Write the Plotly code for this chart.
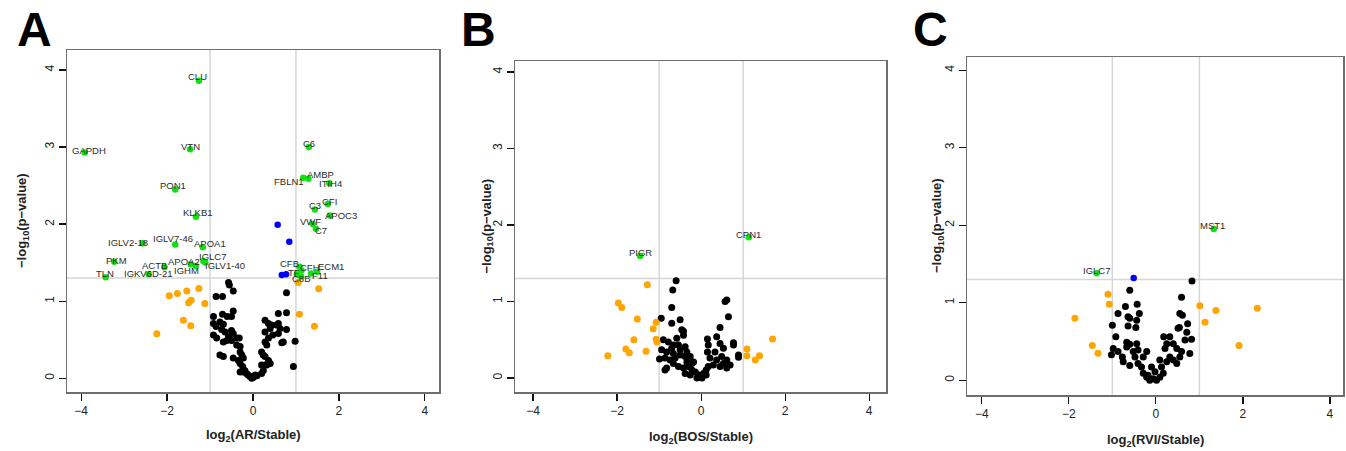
import plotly.graph_objects as go

# ---------------- Panel A: log2(AR/Stable) ----------------
a_black_x = [-0.57, -0.55, -0.46, -0.86, -0.71, -0.92, -0.71, -0.60, -0.50, -0.46,
             -0.92, -0.77, -0.69, -0.86, -0.73, -0.65, -0.50, -0.46, -0.57, -0.50,
             -0.92, -0.845, -0.69, -0.61, -0.38, -0.32, -0.38, -0.30, -0.30, -0.26,
             -0.225, -0.34, -0.46, -0.77, -0.69, -0.30, -0.24, -0.19, -0.30, -0.15,
             -0.07, -0.03, 0.05, 0.09, 0.01, -0.225, -0.11,
             0.78, 0.59, 0.78, 0.28, 0.36, 0.43, 0.40, 0.59, 0.63, 0.78,
             0.28, 0.46, 0.36, 0.28, 0.705, 0.67, 0.98, 0.32, 0.20, 0.24,
             0.28, 0.36, 0.28, 0.20, 0.32, 0.40, 0.24, 0.20, 0.94, 0.59, 0.55]
a_black_y = [1.24, 1.21, 1.13, 1.06, 1.06, 0.80, 0.83, 0.80, 0.80, 0.87,
             0.71, 0.73, 0.70, 0.67, 0.63, 0.60, 0.62, 0.58, 0.54, 0.49,
             0.56, 0.52, 0.47, 0.49, 0.52, 0.52, 0.43, 0.41, 0.34, 0.30,
             0.26, 0.23, 0.26, 0.30, 0.28, 0.19, 0.15, 0.10, 0.08, 0.06,
             0.02, 0.00, 0.04, 0.03, 0.01, 0.08, 0.04,
             1.11, 0.84, 0.85, 0.75, 0.71, 0.69, 0.645, 0.71, 0.645, 0.63,
             0.60, 0.56, 0.52, 0.47, 0.47, 0.46, 0.48, 0.43, 0.34, 0.30,
             0.28, 0.23, 0.17, 0.17, 0.17, 0.19, 0.10, 0.06, 0.15, 0.58, 0.69]
a_orange_x = [-1.95, -1.76, -1.54, -1.26, -1.44, -1.50, -1.12, -1.62, -1.45, -2.24,
              1.53, 1.08, 1.43, 1.05]
a_orange_y = [1.07, 1.10, 1.13, 1.165, 1.01, 0.98, 0.97, 0.75, 0.68, 0.575,
              1.16, 0.83, 0.675, 1.24]
a_blue_x = [0.574, 0.845, 0.67, 0.77]
a_blue_y = [1.99, 1.77, 1.34, 1.35]
a_green_labels = ["CLU", "VTN", "GAPDH", "PON1", "KLKB1", "IGLV2-18", "IGLV7-46",
                  "APOA1", "IGLC7", "IGLV1-40", "APOA2", "IGHM", "ACTB", "IGKV6D-21",
                  "PKM", "TLN", "C6", "AMBP", "FBLN1", "ITIH4", "CFI", "C3", "APOC3",
                  "VWF", "C7", "CFB", "CFH", "ECM1", "TF", "C8B", "F11"]
a_green_x = [-1.26, -1.465, -3.92, -1.81, -1.33, -2.57, -1.81,
             -1.17, -1.155, -1.11, -1.45, -1.33, -2.06, -2.43,
             -3.23, -3.43, 1.30, 1.29, 1.17, 1.775, 1.74, 1.44, 1.79,
             1.39, 1.465, 1.08, 1.13, 1.495, 1.02, 1.12, 1.35]
a_green_y = [3.86, 2.97, 2.93, 2.45, 2.095, 1.75, 1.735,
             1.70, 1.52, 1.50, 1.48, 1.455, 1.44, 1.35,
             1.51, 1.31, 3.00, 2.59, 2.60, 2.53, 2.26, 2.19, 2.11,
             2.00, 1.94, 1.445, 1.40, 1.38, 1.35, 1.32, 1.36]
# label offsets in pixels (layout only)
a_label_dx = [-1, 0, 4, -2, 2, -15, -2, 7, 9, 20, -7, -9, -10, 0,
              2, -1, 0, 12, -14, 1, 2, 0, 11, -2, 5, -10, 8, 14, -3, 0, 9]
a_label_dy = [4, 3, 2, 4, 4, 1, 6, 4, 5, -3, 3, -4, 2, 1,
              1, 4, 4, 4, -4, 0, 3, 4, 0, 3, -2, 3, 3, 5, 2, -2, -2]

# ---------------- Panel B: log2(BOS/Stable) ----------------
b_black_x = [-0.595, -0.675, -0.70, -0.95, -0.70, -0.50, 0.61, 0.57, 0.65, 0.45,
             0.37, 0.15, 0.45, 0.17, 0.77, 0.77, 0.53, 0.15, 0.33, 0.89,
             0.89, 0.49, 0.21, 0.37, 0.61, 0.53, 0.69, 0.61, 0.45, 0.29,
             0.17, 0.12, 0.055, -0.02, -0.10, 0.02, 0.12, -0.06, -0.14, -0.22,
             -0.30, -0.22, -0.34, -0.42, -0.38, -0.26, -0.54, -0.66, -0.82, -0.74,
             -0.86, -0.99, -0.94, -0.82, -0.66, -0.50, -0.38, -0.90, -0.78, -0.58,
             -0.42, -0.46, -0.54, -0.38, -0.66, -0.34, -0.50, -0.62, -0.26, -0.18,
             -0.42, -0.70, -0.86]
b_black_y = [1.27, 1.15, 0.92, 0.78, 0.715, 0.76, 1.02, 1.00, 0.80, 0.66,
             0.54, 0.51, 0.45, 0.43, 0.46, 0.43, 0.39, 0.34, 0.34, 0.30,
             0.27, 0.28, 0.26, 0.235, 0.235, 0.19, 0.17, 0.13, 0.15, 0.17,
             0.15, 0.105, 0.06, 0.02, 0.00, 0.00, 0.04, 0.04, 0.08, 0.105,
             0.15, 0.19, 0.21, 0.13, 0.06, 0.04, 0.15, 0.19, 0.13, 0.235,
             0.26, 0.25, 0.37, 0.34, 0.32, 0.30, 0.28, 0.50, 0.47, 0.52,
             0.56, 0.63, 0.43, 0.41, 0.43, 0.34, 0.37, 0.26, 0.28, 0.21,
             0.61, 0.39, 0.105]
b_orange_x = [-1.28, -1.97, -1.89, -1.52, -1.14, -1.07, -1.60, -1.07, -1.05, -1.79,
              -1.71, -1.31, -2.22, 1.70, 1.09, 1.09, 1.39, 1.29]
b_orange_y = [1.22, 0.98, 0.92, 0.77, 0.645, 0.73, 0.50, 0.505, 0.47, 0.38,
              0.33, 0.35, 0.29, 0.51, 0.38, 0.29, 0.29, 0.235]
b_blue_x = []
b_blue_y = []
b_green_labels = ["PIGR", "CPN1"]
b_green_x = [-1.45, 1.135]
b_green_y = [1.595, 1.84]
b_label_dx = [0, 0]
b_label_dy = [3, 3]

# ---------------- Panel C: log2(RVI/Stable) ----------------
c_black_x = [0.83, -0.60, 0.59, -0.70, -0.43, -0.87, -0.38, -0.60, -0.44, 0.55,
             0.61, -1.00, -0.64, -0.46, 0.54, 0.73, -0.92, -0.67, -0.60, -0.44,
             -0.41, -0.52, -0.21, -0.29, -0.48, -0.98, -1.02, -0.87, -0.75, -0.60,
             -0.41, -0.29, -0.18, -0.06, 0.015, 0.09, 0.17, 0.13, 0.25, 0.32,
             0.40, 0.48, 0.55, 0.59, 0.78, 0.82, 0.67, 0.71, 0.51, 0.32,
             0.18, 0.25, 0.40, 0.21, 0.48, 0.09, -0.10, -0.02, -0.14, -0.21,
             -0.33, -0.67, -0.64, -0.77]
c_black_y = [1.28, 1.16, 1.07, 0.95, 0.98, 0.86, 0.86, 0.80, 0.775, 0.86,
             0.84, 0.71, 0.70, 0.68, 0.68, 0.73, 0.56, 0.49, 0.465, 0.47,
             0.39, 0.37, 0.37, 0.30, 0.30, 0.41, 0.33, 0.37, 0.24, 0.19,
             0.215, 0.09, 0.065, 0.02, 0.00, 0.04, 0.09, 0.17, 0.24, 0.30,
             0.26, 0.215, 0.30, 0.37, 0.345, 0.53, 0.52, 0.62, 0.67, 0.56,
             0.56, 0.47, 0.47, 0.41, 0.41, 0.26, 0.17, 0.11, 0.00, 0.04,
             0.17, 0.43, 0.82, 0.30]
c_orange_x = [-1.10, -1.07, -1.86, -1.46, -1.33, 1.01, 1.38, 2.33, 1.13, 1.91]
c_orange_y = [1.11, 0.98, 0.80, 0.45, 0.35, 0.96, 0.90, 0.93, 0.75, 0.45]
c_blue_x = [-0.51]
c_blue_y = [1.32]
c_green_labels = ["MST1", "IGLC7"]
c_green_x = [1.33, -1.36]
c_green_y = [1.95, 1.38]
c_label_dx = [-1, 0]
c_label_dy = [4, 3]

x_titles = ["log<sub>2</sub>(AR/Stable)", "log<sub>2</sub>(BOS/Stable)", "log<sub>2</sub>(RVI/Stable)"]
panel_letters = ["A", "B", "C"]
x_ticks = [-4, -2, 0, 2, 4]
y_ticks = [0, 1, 2, 3, 4]
fc_cut = [-1, 1]
p_cut = 1.30103  # -log10(0.05)

W, H = 1346, 451

# layout in pixels: (left, right, top, bottom), axis ranges
boxes = [(67, 439, 50, 392), (515, 886, 61, 392), (967, 1343, 57, 395)]
xranges = [[-4.33, 4.33], [-4.43, 4.40], [-4.34, 4.30]]
yranges = [[-0.18, 4.26], [-0.183, 4.144], [-0.19, 4.17]]
ytitle_x = [22, 487, 937]
xtitle_y = [435, 437, 440]
letter_pos = [(34.5, 29.5), (478.5, 29.5), (930.5, 29.5)]

panels = [
    (a_black_x, a_black_y, a_orange_x, a_orange_y, a_blue_x, a_blue_y,
     a_green_x, a_green_y, a_green_labels, a_label_dx, a_label_dy),
    (b_black_x, b_black_y, b_orange_x, b_orange_y, b_blue_x, b_blue_y,
     b_green_x, b_green_y, b_green_labels, b_label_dx, b_label_dy),
    (c_black_x, c_black_y, c_orange_x, c_orange_y, c_blue_x, c_blue_y,
     c_green_x, c_green_y, c_green_labels, c_label_dx, c_label_dy),
]

FONT = "Liberation Sans, Arial, sans-serif"
fig = go.Figure()
annotations = []
shapes = []
layout_axes = {}

for i, (bx, by, ox, oy, blx, bly, gx, gy, gl, ldx, ldy) in enumerate(panels):
    n = "" if i == 0 else str(i + 1)
    xa, ya = "x" + n, "y" + n
    fig.add_trace(go.Scatter(x=bx, y=by, mode="markers", xaxis=xa, yaxis=ya,
                             marker=dict(color="black", size=7), hoverinfo="skip"))
    fig.add_trace(go.Scatter(x=ox, y=oy, mode="markers", xaxis=xa, yaxis=ya,
                             marker=dict(color="#FFA500", size=7), hoverinfo="skip"))
    fig.add_trace(go.Scatter(x=gx, y=gy, mode="markers", xaxis=xa, yaxis=ya,
                             marker=dict(color="#11E011", size=6.5), hoverinfo="skip"))
    if blx:
        fig.add_trace(go.Scatter(x=blx, y=bly, mode="markers", xaxis=xa, yaxis=ya,
                                 marker=dict(color="#0000FF", size=6.5), hoverinfo="skip"))
    for x, y, t, dx, dy in zip(gx, gy, gl, ldx, ldy):
        annotations.append(dict(x=x, y=y, xref=xa, yref=ya, text=t, showarrow=False,
                                xshift=dx, yshift=dy,
                                font=dict(family=FONT, size=9.5, color="#2a2a2a")))
    l, r, t, b = boxes[i]
    common = dict(showline=True, mirror=True, linecolor="#6e6e6e", linewidth=1.5,
                  ticks="outside", ticklen=7, tickcolor="#111", tickwidth=1.2,
                  showgrid=False, zeroline=False,
                  tickfont=dict(family=FONT, size=12, color="#222"))
    layout_axes["xaxis" + n] = dict(common, domain=[l / W, r / W], range=xranges[i],
                                    anchor=ya, tickvals=x_ticks)
    layout_axes["yaxis" + n] = dict(common, domain=[1 - b / H, 1 - t / H], range=yranges[i],
                                    anchor=xa, tickvals=y_ticks, tickangle=-90)
    for v in fc_cut:
        shapes.append(dict(type="line", xref=xa, yref=ya + " domain", x0=v, x1=v, y0=0, y1=1,
                           line=dict(color="#d6d6d6", width=1.5), layer="below"))
    shapes.append(dict(type="line", xref=xa + " domain", yref=ya, x0=0, x1=1, y0=p_cut, y1=p_cut,
                       line=dict(color="#d6d6d6", width=1.5), layer="below"))
    annotations.append(dict(x=(l + r) / 2 / W, y=1 - xtitle_y[i] / H, xref="paper", yref="paper",
                            text="<b>" + x_titles[i] + "</b>", showarrow=False,
                            xanchor="center", yanchor="middle",
                            font=dict(family=FONT, size=13, color="#222")))
    annotations.append(dict(x=ytitle_x[i] / W, y=1 - (t + b) / 2 / H, xref="paper", yref="paper",
                            text="<b>\u2212log<sub>10</sub>(p\u2212value)</b>", showarrow=False,
                            textangle=-90, xanchor="center", yanchor="middle",
                            font=dict(family=FONT, size=13, color="#222")))
    lx, ly = letter_pos[i]
    annotations.append(dict(x=lx / W, y=1 - ly / H, xref="paper", yref="paper",
                            text="<b>" + panel_letters[i] + "</b>", showarrow=False,
                            xanchor="center", yanchor="middle",
                            font=dict(family=FONT, size=48, color="black")))

fig.update_layout(width=W, height=H, margin=dict(l=0, r=0, t=0, b=0),
                  paper_bgcolor="white", plot_bgcolor="white", showlegend=False,
                  annotations=annotations, shapes=shapes, **layout_axes)
fig.write_html("out.html", config={"displayModeBar": False, "staticPlot": True})

# remove the browser's default page margin so the figure sits at the window's top-left
with open("out.html", "r", encoding="utf-8") as f:
    html = f.read()
html = html.replace("<head>", "<head><style>html,body{margin:0;padding:0;overflow:hidden;}</style>", 1)
with open("out.html", "w", encoding="utf-8") as f:
    f.write(html)
